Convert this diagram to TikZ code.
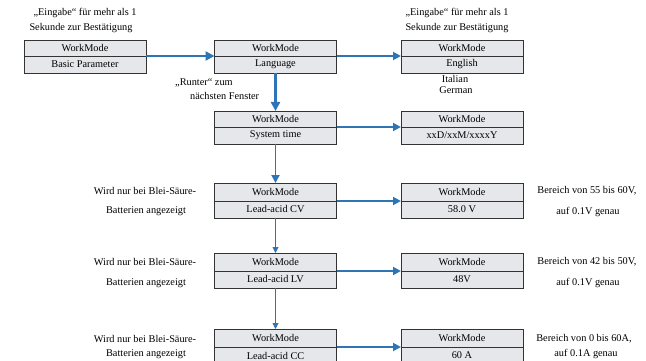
\documentclass[tikz,border=0pt]{standalone}
\usepackage{fontspec}
\setmainfont{Liberation Serif}
\usetikzlibrary{positioning,arrows.meta}
\definecolor{flowblue}{RGB}{46,117,182}
\definecolor{boxgray}{RGB}{229,231,235}
\tikzset{
  part/.style={draw=black!80, fill=boxgray, line width=0.7pt, minimum width=122pt,
    inner sep=0pt, outer sep=0pt, font=\fontsize{10.3}{12}\selectfont},
  parttop/.style={part, minimum height=#1},
  partbot/.style={part, minimum height=17pt},
  note/.style={inner sep=0pt, font=\fontsize{10.3}{12}\selectfont},
  bigflow/.style={draw=flowblue, line width=2.4pt, -{Triangle[length=9pt,width=9pt]}},
  flow/.style={draw=flowblue, line width=1.8pt, -{Triangle[length=8pt,width=8pt]}},
  thinflow/.style={draw=flowblue, line width=0.9pt, -{Triangle[length=6pt,width=6pt]}}
}
\begin{document}
\begin{tikzpicture}[x=1pt,y=-1pt]
\useasboundingbox (0,0) rectangle (646,361);
\def\xL{85};
\def\xM{275.5};
\def\xR{462};
% first row
\node[parttop=16pt] (basicT) at (\xL,48) {WorkMode};
\node[partbot, below=0pt of basicT] (basicB) {Basic Parameter};
\node[parttop=16pt] (langT) at (\xM,48) {WorkMode};
\node[partbot, below=0pt of langT] (langB) {Language};
\node[parttop=16pt] (engT) at (\xR,48) {WorkMode};
\node[partbot, below=0pt of engT] (engB) {English};
\node[note] (italian) at (455,79) {Italian};
\node[note] (german) at (456,90) {German};
% second row
\node[parttop=16pt] (sysT) at (\xM,119) {WorkMode};
\node[partbot, below=0pt of sysT] (sysB) {System time};
\node[parttop=16pt] (timeT) at (\xR,119) {WorkMode};
\node[partbot, below=0pt of timeT] (timeB) {xxD/xxM/xxxxY};
% lead-acid rows
\node[parttop=18pt] (cvT) at (\xM,192) {WorkMode};
\node[partbot, below=0pt of cvT] (cvB) {Lead-acid CV};
\node[parttop=18pt] (cvvT) at (\xR,192) {WorkMode};
\node[partbot, below=0pt of cvvT] (cvvB) {58.0 V};
\node[parttop=18pt] (lvT) at (\xM,262) {WorkMode};
\node[partbot, below=0pt of lvT] (lvB) {Lead-acid LV};
\node[parttop=18pt] (lvvT) at (\xR,262) {WorkMode};
\node[partbot, below=0pt of lvvT] (lvvB) {48V};
\node[parttop=18pt] (ccT) at (\xM,338) {WorkMode};
\node[partbot, below=0pt of ccT] (ccB) {Lead-acid CC};
\node[parttop=18pt] (ccvT) at (\xR,338) {WorkMode};
\node[partbot, below=0pt of ccvT] (ccvB) {60 A};
% notes
\node[note] (enterL) at (85,13) {„Eingabe“ für mehr als 1};
\node[note] (enterLb) at (81,28) {Sekunde zur Bestätigung};
\node[note] (enterR) at (457,13) {„Eingabe“ für mehr als 1};
\node[note] (enterRb) at (457,28) {Sekunde zur Bestätigung};
\node[note, anchor=west] (down) at (175,83) {„Runter“ zum};
\node[note, anchor=west] (downb) at (190,96) {nächsten Fenster};
\foreach \n/\ya/\yb in {cv/191/211, lv/262/283, cc/339/354}{
  \node[note] (lead\n) at (145,\ya) {Wird nur bei Blei-Säure-};
  \node[note] (lead\n b) at (146,\yb) {Batterien angezeigt};
}
\node[note] (rangecv) at (587,191) {Bereich von 55 bis 60V,};
\node[note] (rangecvb) at (588,212) {auf 0.1V genau};
\node[note] (rangelv) at (587,262) {Bereich von 42 bis 50V,};
\node[note] (rangelvb) at (588,283) {auf 0.1V genau};
\node[note] (rangecc) at (584,339) {Bereich von 0 bis 60A,};
\node[note] (rangeccb) at (586,354) {auf 0.1A genau};
% connectors
\draw[bigflow] (basicT.south east) -- (langT.south west);
\draw[flow] (langT.south east) -- (engT.south west);
\draw[bigflow] (langB.south) -- (sysT.north);
\draw[flow] (sysT.south east) -- (timeT.south west);
\draw[flow] (sysB.south) -- (cvT.north);
\draw[flow] (cvT.south east) -- (cvvT.south west);
\draw[thinflow] (cvB.south) -- (lvT.north);
\draw[flow] (lvT.south east) -- (lvvT.south west);
\draw[thinflow] (lvB.south) -- (ccT.north);
\draw[flow] (ccT.south east) -- (ccvT.south west);
\end{tikzpicture}
\end{document}
